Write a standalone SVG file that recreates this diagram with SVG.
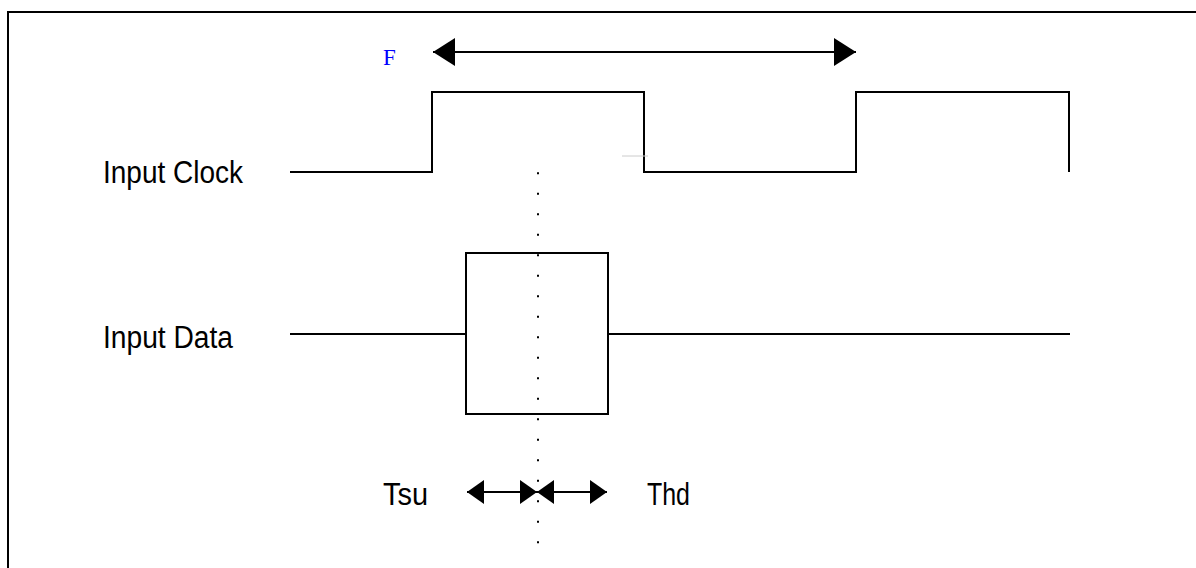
<svg xmlns="http://www.w3.org/2000/svg" width="1196" height="568" viewBox="0 0 1196 568">
<style>
.w{fill:none;stroke:#000;stroke-width:2}
.lbl{font-family:"Liberation Sans",Arial,sans-serif;font-size:31px;fill:#000}
.dot{fill:none;stroke:#000;stroke-width:2;stroke-dasharray:2 18.5}
</style>
<defs>
<marker id="big" viewBox="0 0 22 28" refX="22" refY="14" markerWidth="22" markerHeight="28" markerUnits="userSpaceOnUse" orient="auto-start-reverse">
<path d="M0,0 L22,14 L0,28 Z" fill="#000"/>
</marker>
<marker id="sm" viewBox="0 0 17 24" refX="17" refY="12" markerWidth="17" markerHeight="24" markerUnits="userSpaceOnUse" orient="auto-start-reverse">
<path d="M0,0 L17,12 L0,24 Z" fill="#000"/>
</marker>
</defs>
<rect x="0" y="0" width="1196" height="568" fill="#fff"/>
<rect x="8" y="12" width="1200" height="570" class="w"/>
<g id="clock">
<text class="lbl" x="103" y="183" textLength="140" lengthAdjust="spacingAndGlyphs">Input Clock</text>
<path class="w" d="M290,172 H432 V92 H644 V172 H856 V92 H1069 V172"/>
<line x1="622" y1="156" x2="648" y2="156" stroke="#ccc" stroke-width="1"/>
</g>
<g id="data">
<text class="lbl" x="103" y="348" textLength="130" lengthAdjust="spacingAndGlyphs">Input Data</text>
<path class="w" d="M290,334 H466 M608,334 H1070"/>
<rect x="466" y="253" width="142" height="161" class="w"/>
</g>
<g id="period">
<text x="383" y="65" font-family="'Liberation Serif',serif" font-size="23" fill="#0000ff">F</text>
</g>
<g id="tsu"><text class="lbl" x="383" y="505" textLength="45" lengthAdjust="spacingAndGlyphs">Tsu</text></g>
<g id="thd"><text class="lbl" x="647" y="505" textLength="43" lengthAdjust="spacingAndGlyphs">Thd</text></g>
<g id="connectors">
<line class="dot" x1="538" y1="172.3" x2="538" y2="555"/>
<line x1="433" y1="52" x2="856" y2="52" stroke="#000" stroke-width="2" marker-start="url(#big)" marker-end="url(#big)"/>
<line x1="467" y1="492" x2="537" y2="492" stroke="#000" stroke-width="2" marker-start="url(#sm)" marker-end="url(#sm)"/>
<line x1="537" y1="492" x2="607" y2="492" stroke="#000" stroke-width="2" marker-start="url(#sm)" marker-end="url(#sm)"/>
</g>
</svg>
